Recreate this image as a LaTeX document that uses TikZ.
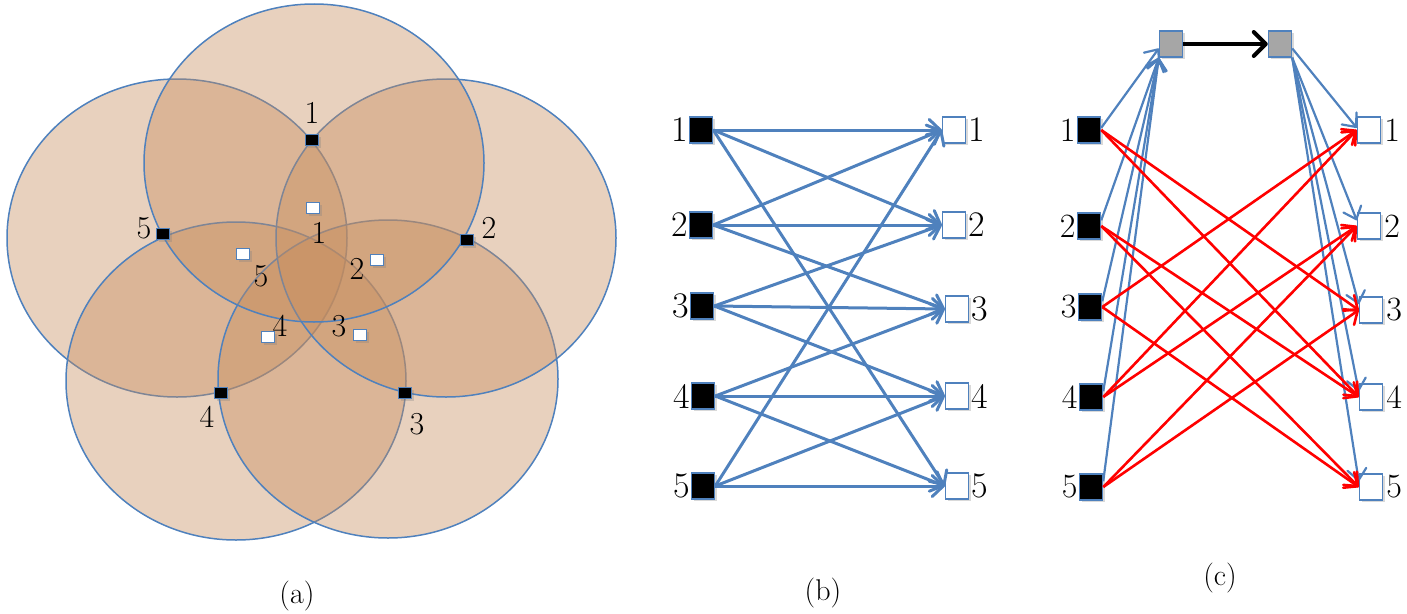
\documentclass[tikz,border=0pt]{standalone}
\usepackage{tikz}
\usetikzlibrary{arrows.meta,positioning,shadows}
\definecolor{netBlue}{HTML}{4F81BD}
\definecolor{zoneTan}{RGB}{198,140,92}
\definecolor{relayGray}{HTML}{A6A6A6}

\begin{document}
\begin{tikzpicture}[x=1pt,y=-1pt,
  sh/.style={drop shadow={shadow xshift=2pt,shadow yshift=-2pt,opacity=0.3}},
  zone/.style={draw=netBlue,line width=1.5pt,fill=zoneTan,fill opacity=0.4},
  apSq/.style={draw=netBlue,line width=1.2pt,fill=black,minimum width=13pt,minimum height=11pt,inner sep=0pt,sh},
  userSq/.style={apSq,fill=white},
  bigTx/.style={draw=netBlue,line width=1.5pt,fill=black,minimum width=23pt,minimum height=26pt,inner sep=0pt,sh},
  bigRx/.style={bigTx,fill=white},
  relay/.style={bigTx,fill=relayGray},
  numA/.style={font=\fontsize{32}{38}\selectfont,inner sep=0pt},
  numB/.style={font=\fontsize{36}{42}\selectfont,inner sep=0pt},
  numC/.style={font=\fontsize{34}{40}\selectfont,inner sep=0pt},
  capt/.style={font=\fontsize{30}{36}\selectfont,inner sep=0pt},
  linkB/.style={netBlue,line width=3pt,-{Straight Barb[length=11pt,width=21pt,round]}},
  linkC/.style={netBlue,line width=2.2pt,-{Straight Barb[length=11pt,width=19pt,round]}},
  crossC/.style={red,line width=2.6pt,-{Straight Barb[length=11pt,width=19pt,round]}},
  hop/.style={black,line width=4pt,-{Straight Barb[length=12pt,width=24pt,round]}}]
\useasboundingbox (0,0) rectangle (1407,613);

% (a) overlapping coverage zones
\foreach \cx/\cy in {177/238,236/381,388/379,446/238,314/163}
  \draw[zone] (\cx,\cy) ellipse [x radius=170, y radius=159];
\foreach \n/\px/\py/\lx/\ly in {1/312/140/312/113,2/467/240/489/228,3/405/393/417/424,4/221/393/207/417,5/163/234/144/228}{
  \node[apSq] (ap\n) at (\px,\py) {};
  \node[numA] (apl\n) at (\lx,\ly) {\n};
}
\foreach \n/\px/\py/\lx/\ly in {1/313/208/319/233,2/377/260/357/269,3/360/335/339/326,4/268/337/280/326,5/243/254/261/276}{
  \node[userSq] (us\n) at (\px,\py) {};
  \node[numA] (usl\n) at (\lx,\ly) {\n};
}
\node[capt] (capa) at (297,596) {(a)};

% (b) direct links
\foreach \n/\x/\y in {1/701/130,2/701/225,3/702/306,4/703/396,5/703/486}{
  \node[bigTx] (bt\n) at (\x,\y) {};
  \node[numB,left=1pt of bt\n] (btl\n) {\n};
}
\foreach \n/\x/\y in {1/954/130,2/954/225,3/957/309,4/957/396,5/957/486}{
  \node[bigRx] (br\n) at (\x,\y) {};
  \node[numB,right=2pt of br\n] (brl\n) {\n};
}
\foreach \i/\j in {1/1,1/2,1/5,2/1,2/2,2/3,3/2,3/3,3/4,4/3,4/4,4/5,5/1,5/4,5/5}
  \draw[linkB] (bt\i.east) -- (br\j.west);
\node[capt] (capb) at (823,593) {(b)};

% (c) relayed and cross links
\node[relay] (g1) at (1171,44) {};
\node[relay] (g2) at (1280,44) {};
\draw[hop] (g1.east) -- (g2.west);
\foreach \n/\x/\y in {1/1089/130,2/1089/226,3/1090/307,4/1091/397,5/1091/487}{
  \node[bigTx] (ct\n) at (\x,\y) {};
  \node[numC,left=1pt of ct\n] (ctl\n) {\n};
}
\foreach \n/\x/\y in {1/1369/130,2/1369/226,3/1371/310,4/1371/397,5/1371/487}{
  \node[bigRx] (cr\n) at (\x,\y) {};
  \node[numC,right=3pt of cr\n] (crl\n) {\n};
}
\draw[linkC] (ct1.10) -- (g1.200);
\foreach \n in {2,...,5}
  \draw[linkC] (ct\n.25) -- (g1.south west);
\draw[linkC] (g2.-20) -- (cr1.170);
\foreach \n in {2,...,5}
  \draw[linkC] (g2.south east) -- (cr\n.155);
\foreach \i/\j in {1/3,1/4,2/4,2/5,3/5,3/1,4/1,4/2,5/2,5/3}
  \draw[crossC] (ct\i.east) -- (cr\j.west);
\node[capt] (capc) at (1220,578) {(c)};
\end{tikzpicture}
\end{document}
